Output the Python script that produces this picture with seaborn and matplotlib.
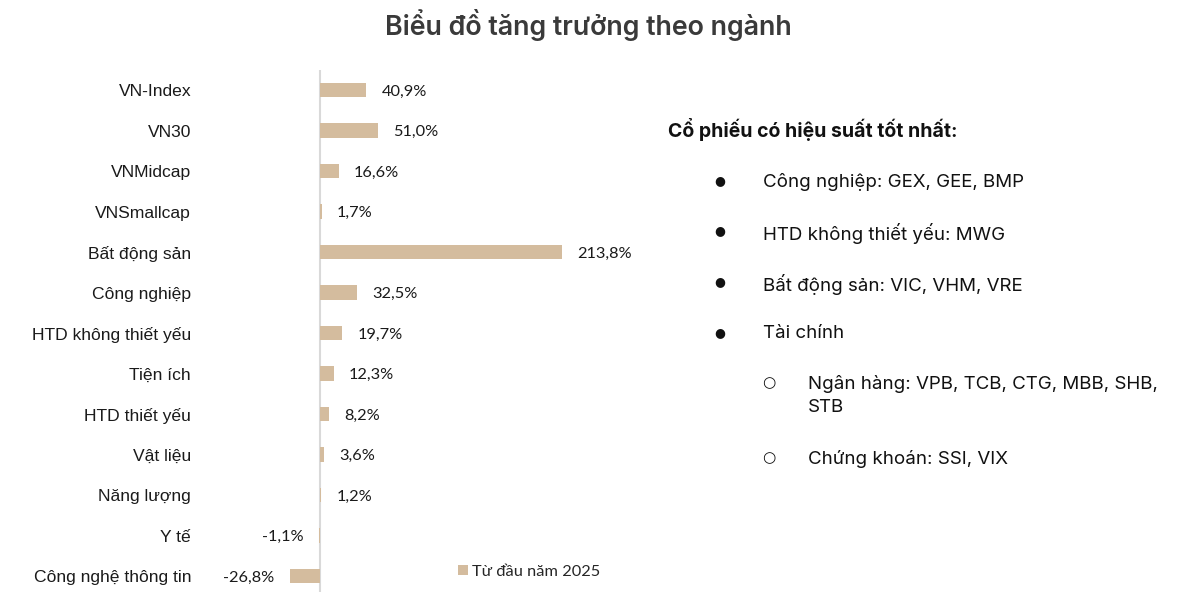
import matplotlib
matplotlib.use("Agg")
import matplotlib.pyplot as plt
import seaborn as sns
import pandas as pd
from matplotlib.patches import Patch

categories = ["VN-Index", "VN30", "VNMidcap", "VNSmallcap", "Bất động sản", "Công nghiệp",
              "HTD không thiết yếu", "Tiện ích", "HTD thiết yếu", "Vật liệu", "Năng lượng",
              "Y tế", "Công nghệ thông tin"]
values = [40.9, 51.0, 16.6, 1.7, 213.8, 32.5, 19.7, 12.3, 8.2, 3.6, 1.2, -1.1, -26.8]
series_name = "Từ đầu năm 2025"
title = "Biểu đồ tăng trưởng theo ngành"
side_heading = "Cổ phiếu có hiệu suất tốt nhất:"
side_items = [
    ("●", "Công nghiệp: GEX, GEE, BMP", 0),
    ("●", "HTD không thiết yếu: MWG", 0),
    ("●", "Bất động sản: VIC, VHM, VRE", 0),
    ("●", "Tài chính", 0),
    ("○", "Ngân hàng: VPB, TCB, CTG, MBB, SHB,\nSTB", 1),
    ("○", "Chứng khoán: SSI, VIX", 1),
]

sns.set_theme(style="white")
plt.rcParams["font.family"] = ["Liberation Sans Narrow", "Liberation Sans", "DejaVu Sans"]

BAR = "#D4BC9E"
W, H = 1187, 592
fig = plt.figure(figsize=(W / 100, H / 100), dpi=100)
fig.patch.set_facecolor("white")

ax_l, ax_r, ax_t, ax_b = 280, 660, 70, 592
ax = fig.add_axes([ax_l / W, 1 - ax_b / H, (ax_r - ax_l) / W, (ax_b - ax_t) / H])

df = pd.DataFrame({"cat": categories, "val": values})
sns.barplot(data=df, x="val", y="cat", orient="h", color=BAR, width=0.37,
            saturation=1, ax=ax, edgecolor="none")

scale = 1.13  # px per percent
zero_px = 320
ax.set_xlim((ax_l - zero_px) / scale, (ax_r - zero_px) / scale)
ax.set_ylim(12.395, -0.494)
for s in ax.spines.values():
    s.set_visible(False)
ax.axvline(0, color="#d9d9d9", lw=1.5, zorder=0)
ax.set_xticks([])
ax.set_xlabel("")
ax.set_ylabel("")
ax.tick_params(axis="y", length=0, pad=64, labelsize=12.6, labelcolor="#1a1a1a")
for lab in ax.get_yticklabels():
    lab.set_fontfamily(["Liberation Sans Narrow", "Liberation Sans", "DejaVu Sans"])
    lab.set_verticalalignment("center_baseline")

for i, v in enumerate(values):
    txt = f"{v:.1f}%".replace(".", ",")
    off = 11 if v >= 0 else -11
    ax.annotate(txt, xy=(v, i), xytext=(off, 0), textcoords="offset points",
                ha="left" if v >= 0 else "right", va="center_baseline", fontsize=11.8,
                color="#1a1a1a", family=["Lato", "DejaVu Sans"])

leg = fig.legend(handles=[Patch(facecolor=BAR, edgecolor="none")], labels=[series_name],
                 loc="center left", bbox_to_anchor=(443 / W, 1 - 572 / H), frameon=False,
                 handlelength=0.6, handleheight=0.6, handletextpad=0.3,
                 prop={"family": ["Lato", "DejaVu Sans"], "size": 11.8})

fig.text(588 / W, 1 - 25 / H, title, ha="center", va="center", fontsize=19.3,
         color="#3a3a3a", family=["Inter", "DejaVu Sans"], fontweight="semibold")

fig.text(668 / W, 1 - 130 / H, side_heading, ha="left", va="center", fontsize=14,
         color="#111111", family=["Inter", "DejaVu Sans"], fontweight="bold")

ys = [182, 232, 283, 334, 384, 459]
for (b, t, lvl), y in zip(side_items, ys):
    bx = 720 if lvl == 0 else 769
    tx = 763 if lvl == 0 else 808
    fig.text(bx / W, 1 - (y - 1) / H, b, ha="center", va="center",
             fontsize=9 if lvl == 0 else 11, color="#111111", family=["DejaVu Sans"])
    fig.text(tx / W, 1 - (y - 9) / H, t, ha="left", va="top", fontsize=13.5,
             color="#111111", family=["Inter", "DejaVu Sans"], linespacing=1.45)

fig.savefig("out.png", dpi=100, facecolor="white")
